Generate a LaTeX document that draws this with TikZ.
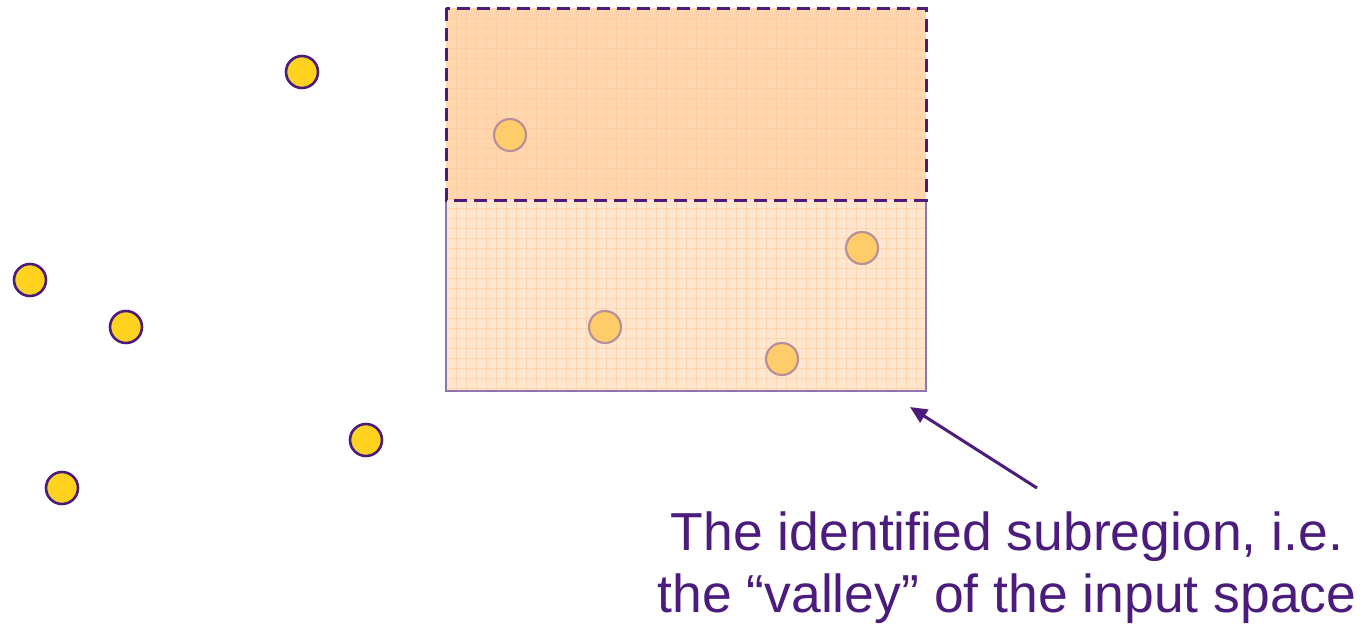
\documentclass[tikz,border=0pt]{standalone}
\usepackage{fontspec}
\setmainfont{Liberation Sans}
\usetikzlibrary{arrows.meta}
\definecolor{ink}{HTML}{4B1C7C}
\definecolor{dot}{HTML}{FFD21F}
\definecolor{dimdot}{HTML}{FFCC6A}
\definecolor{dimring}{HTML}{B8909C}
\definecolor{regiontop}{HTML}{FFD6B0}
\definecolor{regionlow}{HTML}{FFE6CF}
\definecolor{gridline}{HTML}{FFC890}
\definecolor{edge}{HTML}{8C74AC}
\tikzset{
  x=1pt, y=-1pt,
  sample/.style={circle, minimum size=32pt, inner sep=0pt, fill=dot, draw=ink, line width=2.6pt},
  covered/.style={circle, minimum size=32pt, inner sep=0pt, fill=dimdot, draw=dimring, line width=2.2pt},
  caption/.style={text=ink, font=\fontsize{53.5}{62}\selectfont, align=center, inner sep=0pt},
}
\begin{document}
\begin{tikzpicture}
\useasboundingbox (0,0) rectangle (1368,625);
% input space region with grid
\fill[regionlow] (446,200) rectangle (926,391);
\fill[regiontop] (446,8) rectangle (926,200);
\begin{scope}
  \clip (446,8) rectangle (926,391);
  \foreach \gx in {456,466,...,926} \draw[gridline, line width=1pt, opacity=0.5] (\gx,8) -- (\gx,391);
  \foreach \gy in {18,28,...,391} \draw[gridline, line width=1pt, opacity=0.5] (446,\gy) -- (926,\gy);
\end{scope}
\draw[edge, line width=2.6pt] (446,200) -- (446,391) -- (926,391) -- (926,200);
\draw[ink, line width=3pt, dash pattern=on 13pt off 7pt] (446,8) rectangle (926,200);
% samples inside the region
\node[covered] (c1) at (510,135) {};
\node[covered] (c2) at (862,248) {};
\node[covered] (c3) at (605,327) {};
\node[covered] (c4) at (782,359) {};
% samples outside the region
\node[sample] (s1) at (302,72) {};
\node[sample] (s2) at (30,280) {};
\node[sample] (s3) at (126,327) {};
\node[sample] (s4) at (366,440) {};
\node[sample] (s5) at (62,488) {};
% caption and pointer
\node[caption, anchor=base] (cap) at (1007,612) {The identified subregion, i.e.\\the “valley” of the input space};
\coordinate (tail) at (1037,488);
\coordinate (corner) at (910,407);
\draw[ink, line width=3pt, -{Triangle[length=17pt, width=15pt]}] (tail) -- (corner);
\end{tikzpicture}
\end{document}
